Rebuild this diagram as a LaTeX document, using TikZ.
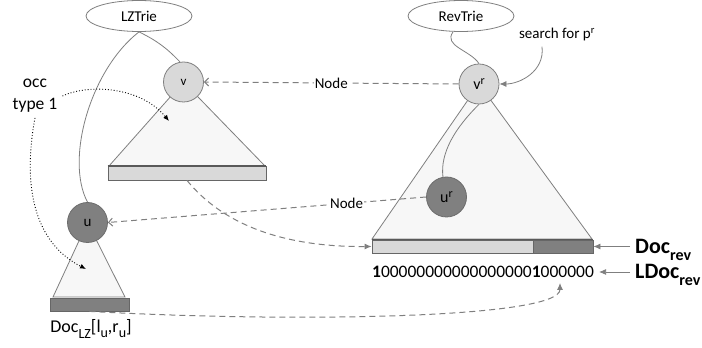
\documentclass[tikz,border=0pt]{standalone}
\usepackage{fontspec}
\setmainfont{Carlito}
\usetikzlibrary{shapes.geometric,arrows.meta,positioning}
\definecolor{edgegray}{HTML}{7F7F7F}
\definecolor{lightfill}{HTML}{D9D9D9}
\definecolor{darkfill}{HTML}{808080}
\definecolor{trifill}{HTML}{F7F7F7}
\newcommand{\dropsub}[3]{\raisebox{-#1pt}{\fontsize{#2}{#2}\selectfont #3}}
\begin{document}
\fontsize{15}{18}\selectfont
\begin{tikzpicture}[x=1pt,y=1pt,
  trie/.style={ellipse,draw=edgegray,fill=white,line width=0.8pt,minimum width=106pt,minimum height=31pt,inner sep=0pt},
  lnode/.style={circle,draw=edgegray,fill=lightfill,line width=0.8pt,minimum size=40pt,inner sep=0pt},
  dnode/.style={circle,draw=edgegray!85!black,fill=darkfill,line width=0.8pt,minimum size=40pt,inner sep=0pt},
  tri/.style={draw=edgegray,fill=trifill,line width=0.8pt},
  bar/.style={rectangle,draw=edgegray!80!black,line width=0.8pt,minimum height=13pt,inner sep=0pt},
  edge/.style={draw=edgegray,line width=0.8pt},
  ptr/.style={draw=edgegray,line width=1pt,dash pattern=on 6pt off 4pt},
  tip/.style={-{Latex[length=7pt,width=6pt]}},
  occarr/.style={dotted,line width=0.9pt,-{Latex[length=6pt,width=5pt]}}
]
\useasboundingbox (0,0) rectangle (702,348);
% subtrees
\draw[tri] (183.5,266) -- (109,182) -- (265,182) -- cycle;
\draw[tri] (87.5,125.5) -- (53,51) -- (125,51) -- cycle;
\draw[tri] (479,264) -- (372,109) -- (592,109) -- cycle;
% document arrays
\node[bar,fill=lightfill,minimum width=158pt,minimum height=14pt] (vbar) at (187,175) {};
\draw[edgegray!70!black,line width=2pt] (vbar.north west) -- (vbar.north east);
\node[bar,fill=darkfill,minimum width=79pt] (ubar) at (89.5,43.5) {};
\node[bar,fill=lightfill,minimum width=161pt] (revl) at (452.5,101.5) {};
\node[bar,fill=darkfill,minimum width=60pt] (revd) at (563,101.5) {};
\draw[edgegray!70!black,line width=1.2pt] (revl.north west) -- (revd.north east);
% tries and nodes
\node[trie] (lz) at (139,332) {LZTrie};
\node[trie] (rev) at (461,332) {RevTrie};
\node[lnode,font=\fontsize{13}{13}\selectfont] (v) at (183.5,266) {v};
\node[lnode,font=\fontsize{16}{16}\selectfont] (vr) at (479,264) {v\raisebox{5pt}{\fontsize{12}{12}\selectfont r}};
\node[dnode,font=\fontsize{15}{15}\selectfont] (u) at (87.5,125.5) {u};
\node[dnode,font=\fontsize{16}{16}\selectfont] (ur) at (446.5,151) {u\raisebox{5pt}{\fontsize{12}{12}\selectfont r}};
\draw[edge] (lz.south) to[bend left=10] (v.100);
\draw[edge] (lz.south) .. controls (90,278) and (65,188) .. (u.north);
\draw[edge] ([xshift=-8pt]rev.south) .. controls (443,302) and (470,298) .. (vr.north);
\draw[edge] (vr.south) .. controls (455,220) and (440,195) .. (ur.100);
% search
\node (search) at (557,313) {search for p\textsuperscript{r}};
\draw[edge,tip] ([xshift=-15pt]search.south) .. controls +(3,-25) and +(20,0) .. (vr.east);
% node links
\draw[ptr,-{Straight Barb[length=4pt,width=8pt]}] (vr.west) -- node[fill=white,inner sep=1pt] (vlink) {Node} (v.east);
\draw[ptr,-{Straight Barb[length=4pt,width=8pt]}] (ur.west) -- node[pos=0.25,fill=white,inner sep=1pt] (ulink) {Node} (u.east);
% bit vector and labels
\node[font=\fontsize{17.5}{18}\selectfont] (ldoc) at (483,76) {\textbf{1}00000000000000000\textbf{1}000000};
\node[font=\fontsize{22}{22}\selectfont\bfseries,anchor=base west] (docrev) at (630,94) {Doc\dropsub{7}{16}{rev}};
\node[font=\fontsize{22}{22}\selectfont\bfseries,anchor=base west] (ldocrev) at (630,69) {LDoc\dropsub{7}{16}{rev}};
\draw[edge,tip] (docrev.west |- revd.east) -- (revd.east);
\draw[edge,tip] (ldocrev.west |- ldoc.east) -- (ldoc.east);
\node[font=\fontsize{18}{18}\selectfont,anchor=base] (doclz) at (91,15) {Doc\dropsub{6}{14}{LZ}[l\dropsub{5}{14}{u},r\dropsub{5}{14}{u}]};
\draw[ptr,tip] (vbar.south) .. controls (230,115) and (300,101) .. (revl.west);
\draw[ptr,tip] (ubar.south) .. controls (300,25) and (560,30) .. ([xshift=77pt]ldoc.south);
% occurrences of type 1
\node[font=\fontsize{17.5}{22}\selectfont,align=center] (occ) at (35,252) {occ\\type 1};
\coordinate (vtip) at (169,227);
\coordinate (utip) at (86,79);
\draw[occarr] (occ.east) .. controls (88,264) and (140,262) .. (vtip);
\draw[occarr] (occ.south) .. controls (22,160) and (35,105) .. (utip);
\end{tikzpicture}
\end{document}
